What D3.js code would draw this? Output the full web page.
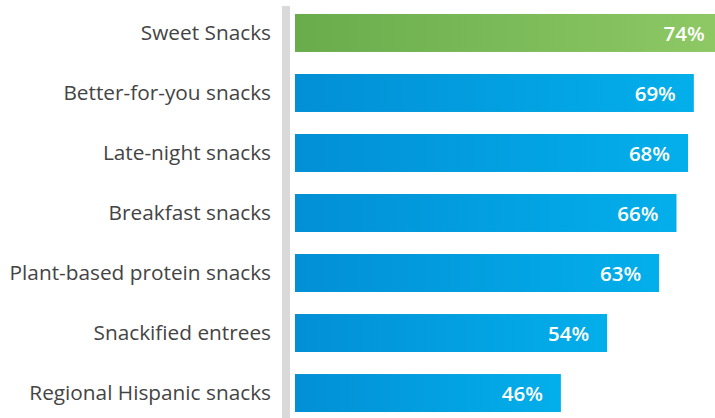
<!DOCTYPE html>
<html>
<head>
<meta charset="utf-8">
<script src="https://cdn.jsdelivr.net/npm/d3@7"></script>
<style>
  html, body { margin: 0; padding: 0; background: #fff; }
  svg { display: block; }
</style>
</head>
<body>
<svg id="chart" width="715" height="418"></svg>
<script>
'use strict';

const categories = ['Sweet Snacks', 'Better-for-you snacks', 'Late-night snacks', 'Breakfast snacks',
  'Plant-based protein snacks', 'Snackified entrees', 'Regional Hispanic snacks'];
const values = [74, 69, 68, 66, 63, 54, 46];
const highlight = [true, false, false, false, false, false, false];

const width = 715;
const height = 418;
const svg = d3.select('#chart');

const xScale = d3.scaleLinear()
  .domain([0, 100])
  .range([295, 295 + 578]);

const yScale = d3.scaleBand()
  .domain(categories)
  .range([3, 423])
  .paddingInner(0.367)
  .paddingOuter(0.183);

const defs = svg.append('defs');
const green = defs.append('linearGradient').attr('id', 'gGreen')
  .attr('x1', '0%').attr('x2', '100%').attr('y1', '0%').attr('y2', '0%');
green.append('stop').attr('offset', '0%').attr('stop-color', '#69ac4c');
green.append('stop').attr('offset', '100%').attr('stop-color', '#8ec965');

const blue = defs.append('linearGradient').attr('id', 'gBlue')
  .attr('x1', '0%').attr('x2', '100%').attr('y1', '0%').attr('y2', '0%');
blue.append('stop').attr('offset', '0%').attr('stop-color', '#028fd5');
blue.append('stop').attr('offset', '100%').attr('stop-color', '#03afea');

// gray axis bar
svg.append('rect')
  .attr('x', 282)
  .attr('y', 6)
  .attr('width', 8)
  .attr('height', height - 6)
  .attr('fill', '#d9d9d9');

const rows = svg.selectAll('.row')
  .data(categories)
  .enter().append('g')
  .attr('class', 'row');

rows.append('rect')
  .attr('x', xScale(0))
  .attr('y', d => yScale(d))
  .attr('width', (d, i) => xScale(values[i]) - xScale(0))
  .attr('height', yScale.bandwidth())
  .attr('fill', (d, i) => highlight[i] ? 'url(#gGreen)' : 'url(#gBlue)');

rows.append('text')
  .attr('x', 271)
  .attr('y', d => yScale(d) + yScale.bandwidth() / 2)
  .attr('dy', '0.35em')
  .attr('text-anchor', 'end')
  .style('font-family', '"Open Sans", "Noto Sans", sans-serif')
  .style('font-size', '20.8px')
  .style('fill', '#444444')
  .text(d => d);

rows.append('text')
  .attr('x', (d, i) => xScale(values[i]) - 18)
  .attr('y', d => yScale(d) + yScale.bandwidth() / 2)
  .attr('dy', '0.38em')
  .attr('text-anchor', 'end')
  .style('font-family', '"Open Sans", "Noto Sans", sans-serif')
  .style('font-size', '20.5px')
  .style('font-weight', '600')
  .style('fill', '#ffffff')
  .text((d, i) => values[i] + '%');
</script>
</body>
</html>
